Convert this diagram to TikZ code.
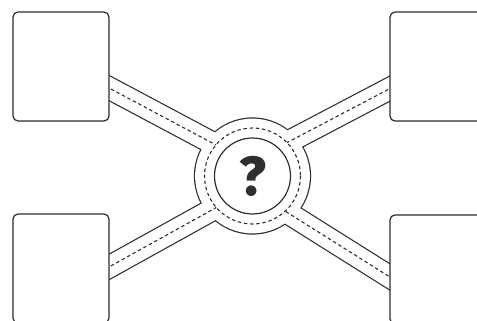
\documentclass[tikz,border=0pt]{standalone}
\usepackage{fontspec}
\newfontfamily\markfont{Fira Sans ExtraBold}
\usetikzlibrary{calc}
\definecolor{ink}{HTML}{2E2E2E}
\definecolor{paper}{HTML}{FFFFFF}
\tikzset{
  lot/.style={draw=ink,fill=paper,rounded corners=5pt,line width=1.2pt,minimum width=96pt,minimum height=109pt,inner sep=0pt},
  hub/.style={circle,draw=ink,fill=paper,line width=1.2pt,minimum size=76pt,inner sep=0pt,font=\markfont\fontsize{55}{55}\selectfont,text=ink},
  roadbed/.style={line width=23.4pt,draw=ink},
  roadtop/.style={line width=21pt,draw=paper},
  roadmark/.style={line width=1.1pt,draw=ink,dash pattern=on 3.4pt off 2.8pt}
}

\begin{document}
\begin{tikzpicture}[x=1pt,y=-1pt]
    \useasboundingbox (0,0) rectangle (477,321);
    \coordinate (mid) at (252.5,176);
    \coordinate (tlgate) at (100,83.2);
    \coordinate (trgate) at (399,83.8);
    \coordinate (blgate) at (100,272);
    \coordinate (brgate) at (399,282.7);
    \coordinate (tlend) at (232.6,153.8);
    \coordinate (trend) at (266.1,153.6);
    \coordinate (blend) at (231.4,199.1);
    \coordinate (brend) at (271.4,202.5);
    \fill[ink] (mid) circle (58.6);
    \foreach \r in {tl,tr,bl,br}
      \draw[roadbed] (\r gate) -- (\r end);
    \fill[paper] (mid) circle (57.4);
    \foreach \r in {tl,tr,bl,br}
      \draw[roadtop] (\r gate) -- (\r end);
    \foreach \r in {tl,tr,bl,br}
      \draw[roadmark] (\r gate) -- (\r end);
    \fill[paper] (mid) circle (48);
    \draw[roadmark] (mid) circle (48);
    \node[hub] (q) at (mid) {?};
    \node[lot] (tl) at (61,66.5) {};
    \node[lot] (tr) at (438,66.5) {};
    \node[lot] (bl) at (61,268.5) {};
    \node[lot] (br) at (438,269.5) {};
  \end{tikzpicture}
\end{document}
